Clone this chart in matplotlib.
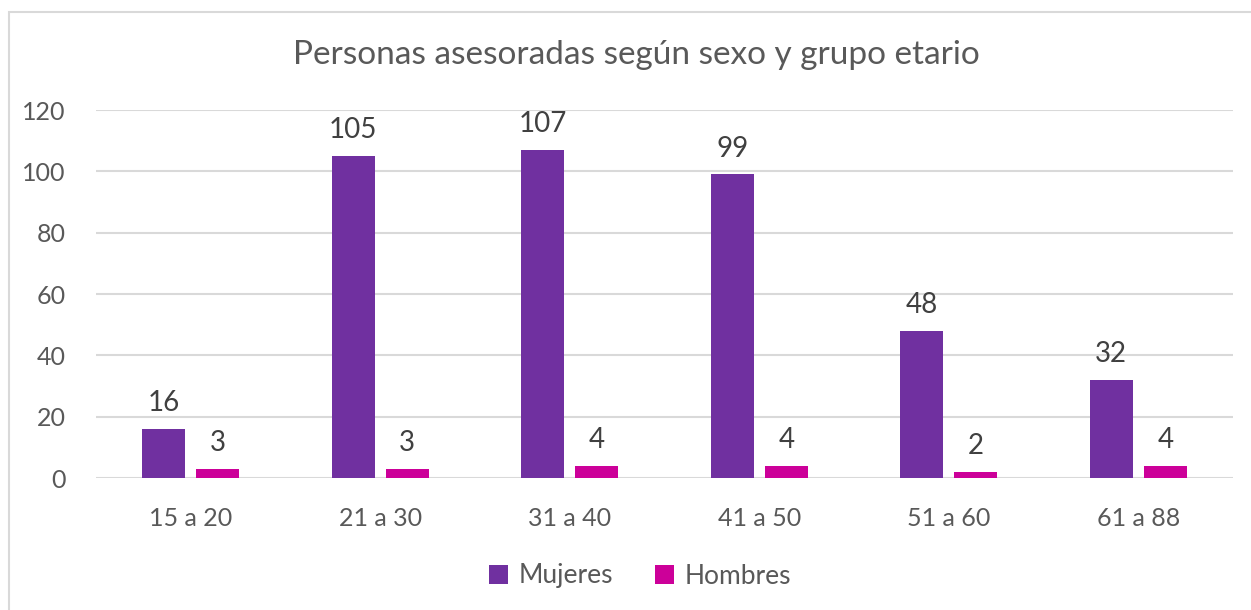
import matplotlib
matplotlib.use("Agg")
import matplotlib.pyplot as plt
import numpy as np
from matplotlib.patches import Rectangle

plt.rcParams["font.family"] = ["Lato", "DejaVu Sans"]

# data
categories = ["15 a 20", "21 a 30", "31 a 40", "41 a 50", "51 a 60", "61 a 88"]
mujeres = [16, 105, 107, 99, 48, 32]
hombres = [3, 3, 4, 4, 2, 4]
yticks = [0, 20, 40, 60, 80, 100, 120]

PURPLE = "#7030A0"
MAGENTA = "#CC0099"
GRAY = "#595959"

W, H = 1251, 610
fig = plt.figure(figsize=(W / 100, H / 100), dpi=100)

# outer chart frame (runs off the right/bottom edge like the screenshot)
fig.patches.append(Rectangle((8.5 / W, -0.05), 1.2, 1 - 12 / H + 0.05,
                             transform=fig.transFigure, fill=False,
                             edgecolor="#D9D9D9", linewidth=1.5))

left, right = 96 / W, 1233 / W
bottom, top = 1 - 478 / H, 1 - 110 / H
ax = fig.add_axes([left, bottom, right - left, top - bottom])

x = np.arange(len(categories))
bw = 0.227
off = 0.1425
b1 = ax.bar(x - off, mujeres, bw, color=PURPLE, label="Mujeres")
b2 = ax.bar(x + off, hombres, bw, color=MAGENTA, label="Hombres")

for bars, vals in ((b1, mujeres), (b2, hombres)):
    for rect, v in zip(bars, vals):
        ax.annotate(str(v), (rect.get_x() + rect.get_width() / 2, v),
                    xytext=(0, 9), textcoords="offset points",
                    ha="center", va="bottom", fontsize=20, color="#404040")

ax.set_xlim(-0.5, len(categories) - 0.5)
ax.set_ylim(0, 120)
ax.set_yticks(yticks)
ax.set_xticks(x)
ax.set_xticklabels(categories)
ax.tick_params(axis="both", length=0, labelsize=18, labelcolor=GRAY)
ax.tick_params(axis="y", pad=22)
ax.tick_params(axis="x", pad=21)
ax.grid(axis="y", color="#D9D9D9", linewidth=1.5)
ax.set_axisbelow(True)
for s in ax.spines.values():
    s.set_visible(False)

fig.text(636 / W, 1 - 55 / H, "Personas asesoradas según sexo y grupo etario",
         ha="center", va="center", fontsize=24, color=GRAY)

fig.legend(handles=[b1, b2], loc="center", bbox_to_anchor=(640 / W, 1 - 576 / H),
           ncol=2, frameon=False, fontsize=19, labelcolor=GRAY,
           handlelength=0.7, handleheight=0.7, handletextpad=0.4, columnspacing=1.6)

fig.savefig("out.png", dpi=100)
